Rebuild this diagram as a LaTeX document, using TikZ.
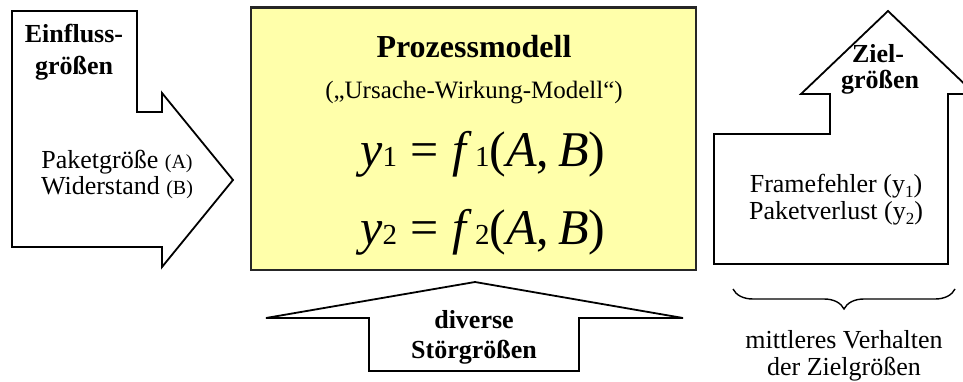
\documentclass[tikz,border=0pt]{standalone}
\usepackage{fontspec}
\setmainfont{Liberation Serif}
\usetikzlibrary{decorations.pathreplacing}
\definecolor{boxyellow}{RGB}{255,255,170}
\newcommand\sz[1]{\fontsize{#1}{#1}\selectfont}
\newcommand\myeqn[1]{{\itshape y}{\sz{29}#1}\hspace{13pt}=\hspace{14pt}{\itshape f}\hspace{9pt}{\sz{29}#1}({\itshape A},\hspace{9pt}{\itshape B})}
\newcommand\lowsub[1]{\raisebox{-5pt}{\sz{17}#1}}
\tikzset{
  arrowshape/.style={draw=black, line width=1.8pt, line join=miter, fill=white},
  modelbox/.style={draw=black!85, line width=2.6pt, fill=boxyellow, inner sep=0pt},
  txt/.style={anchor=base, inner sep=0pt, font=\sz{26}},
  headtxt/.style={anchor=base, inner sep=0pt, font=\sz{26}\bfseries},
  bracestyle/.style={draw=black, line width=1.4pt, decorate,
    decoration={brace, mirror, amplitude=20pt}}
}
\begin{document}
\begin{tikzpicture}[x=1pt, y=-1pt]
\clip (0,0) rectangle (963,382);
% left input arrow
\draw[arrowshape] (12,11) -- (137,11) -- (137,112) -- (162,112) -- (162,93)
  -- (233,180) -- (162,267) -- (162,247) -- (12,247) -- cycle;
% process model box
\node[modelbox, minimum width=445pt, minimum height=262.5pt] (box) at (473.5,138.75) {};
% right output arrow
\draw[arrowshape] (714,134) -- (830,134) -- (830,94) -- (801,94) -- (888,11)
  -- (975,94) -- (948,94) -- (948,264) -- (714,264) -- cycle;
% bottom disturbance arrow
\draw[arrowshape] (369,318) -- (266,318) -- (475,282) -- (683,318) -- (579,318)
  -- (579,371) -- (369,371) -- cycle;
% brace
\coordinate (bl) at (733,289);
\coordinate (br) at (955,289);
\draw[bracestyle] (bl) -- (br);
% texts left
\node[headtxt] (ein1) at (74,43) {Einfluss-};
\node[headtxt] (ein2) at (74,75) {größen};
\node[txt] (in1) at (117,168) {Paketgröße {\sz{20}(A)}};
\node[txt] (in2) at (117,195) {Widerstand {\sz{20}(B)}};
% texts box
\node[anchor=base, inner sep=0pt, font=\sz{32}\bfseries] (pm) at (474,58) {Prozessmodell};
\node[anchor=base, inner sep=0pt, font=\sz{25}] (uw) at (474,99) {(„Ursache-Wirkung-Modell“)};
\node[anchor=base, inner sep=0pt, font=\sz{50}] (eq1) at (483,167) {\myeqn{1}};
\node[anchor=base, inner sep=0pt, font=\sz{50}] (eq2) at (483,244) {\myeqn{2}};
% texts right
\node[headtxt] (ziel1) at (878,63) {Ziel-};
\node[headtxt] (ziel2) at (880,89) {größen};
\node[txt] (out1) at (836,193) {Framefehler (y\lowsub{1})};
\node[txt] (out2) at (836,219) {Paketverlust (y\lowsub{2})};
% texts bottom
\node[headtxt] (dis1) at (474,328) {diverse};
\node[headtxt] (dis2) at (474,358) {Störgrößen};
\node[txt] (mv1) at (844,348) {mittleres Verhalten};
\node[txt] (mv2) at (844,375) {der Zielgrößen};
\end{tikzpicture}
\end{document}
